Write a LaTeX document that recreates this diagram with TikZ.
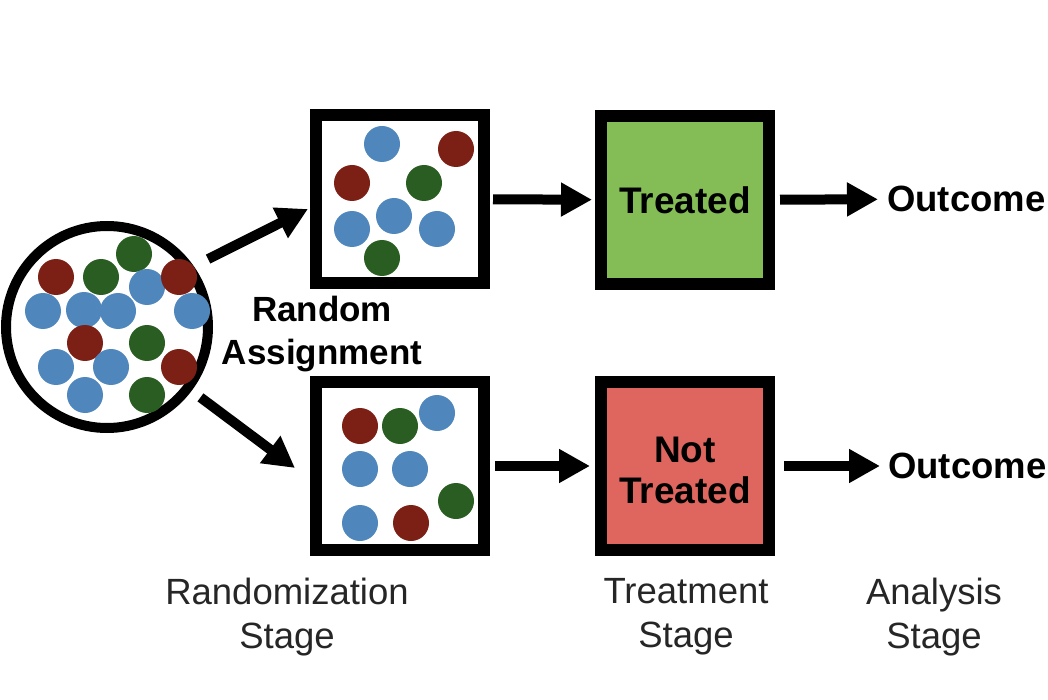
\documentclass[tikz,border=0pt]{standalone}
\usepackage{fontspec}
\setmainfont{Liberation Sans}
\usetikzlibrary{arrows.meta, positioning, calc}
\definecolor{cblue}{HTML}{4F86BC}
\definecolor{cred}{HTML}{7C1F14}
\definecolor{cgreen}{HTML}{2A5D22}
\definecolor{ctreat}{HTML}{84BD56}
\definecolor{cctrl}{HTML}{DE665E}
\tikzset{
  every picture/.style={font=\fontsize{35}{43}\selectfont},
  group/.style={draw=black, fill=#1, line width=12pt, minimum size=168pt, inner sep=0pt, align=center, font=\fontsize{37}{41}\selectfont\bfseries},
  group/.default=white,
  arrow/.style={-{Triangle[length=31pt, width=32pt]}, line width=10pt},
  bold/.style={font=\fontsize{35}{43}\selectfont\bfseries, align=center, inner sep=0pt},
  stage/.style={font=\fontsize{36.5}{44}\selectfont, text=black!85, align=center},
}
\begin{document}
\begin{tikzpicture}[x=1pt, y=-1pt]
  \useasboundingbox (0,0) rectangle (1048,700);
  % the whole sample before it is split
  \node[circle, draw, line width=10pt, minimum size=202pt, inner sep=0pt] (pool) at (107,327) {};
  \foreach \x/\y/\c in {56/277/cred, 101/277/cgreen, 134/254/cgreen, 147/287/cblue, 179/277/cred,
      43/311/cblue, 84/310/cblue, 118/311/cblue, 192/311/cblue, 85/343/cred, 147/343/cgreen,
      56/367/cblue, 111/367/cblue, 179/367/cred, 85/395/cblue, 147/395/cgreen}
    \fill[\c] (\x,\y) circle (18pt);
  \node[bold] (assign) at (322,334) {Random\\Assignment};
  % the two groups
  \node[group] (grpA) at (400,199) {};
  \foreach \x/\y/\c in {382/144/cblue, 456/149/cred, 352/183/cred, 424/183/cgreen,
      394/216/cblue, 352/229/cblue, 437/229/cblue, 382/258/cgreen}
    \fill[\c] (\x,\y) circle (18pt);
  \node[group] (grpB) at (400,466) {};
  \foreach \x/\y/\c in {360/426/cred, 400/426/cgreen, 437/413/cblue, 360/469/cblue,
      410/469/cblue, 456/501/cgreen, 360/523/cblue, 411/523/cred}
    \fill[\c] (\x,\y) circle (18pt);
  % treatment and outcome
  \node[group=ctreat] (treat) at (685,200) {Treated};
  \node[group=cctrl] (ctrl) at (685,466) {\raisebox{-9pt}[\height][\depth]{\begin{tabular}{@{}c@{}}Not\\Treated\end{tabular}}};
  \node[bold, font=\fontsize{36.5}{43}\selectfont\bfseries, anchor=west] (outA) at (887,199) {Outcome};
  \node[bold, font=\fontsize{36.5}{43}\selectfont\bfseries, anchor=west] (outB) at (888,466) {Outcome};
  \draw[arrow, shorten <=16pt] (pool.35) -- ([xshift=-2pt, yshift=-10pt]grpA.west);
  \draw[arrow, shorten <=11pt] (pool.-37) -- ([xshift=-15pt, yshift=-2pt]grpB.west);
  \draw[arrow, shorten <=3pt, shorten >=3pt] (grpA) -- (treat);
  \draw[arrow, shorten <=5pt, shorten >=9pt] (treat) -- (outA);
  \draw[arrow, shorten <=5pt, shorten >=5pt] (grpB) -- (ctrl);
  \draw[arrow, shorten <=9pt, shorten >=8pt] (ctrl) -- (outB);
  % stage labels
  \node[stage] (stgR) at (287,617) {Randomization\\Stage};
  \node[stage] (stgT) at (686,617) {Treatment\\Stage};
  \node[stage] (stgA) at (934,617) {Analysis\\Stage};
\end{tikzpicture}
\end{document}
